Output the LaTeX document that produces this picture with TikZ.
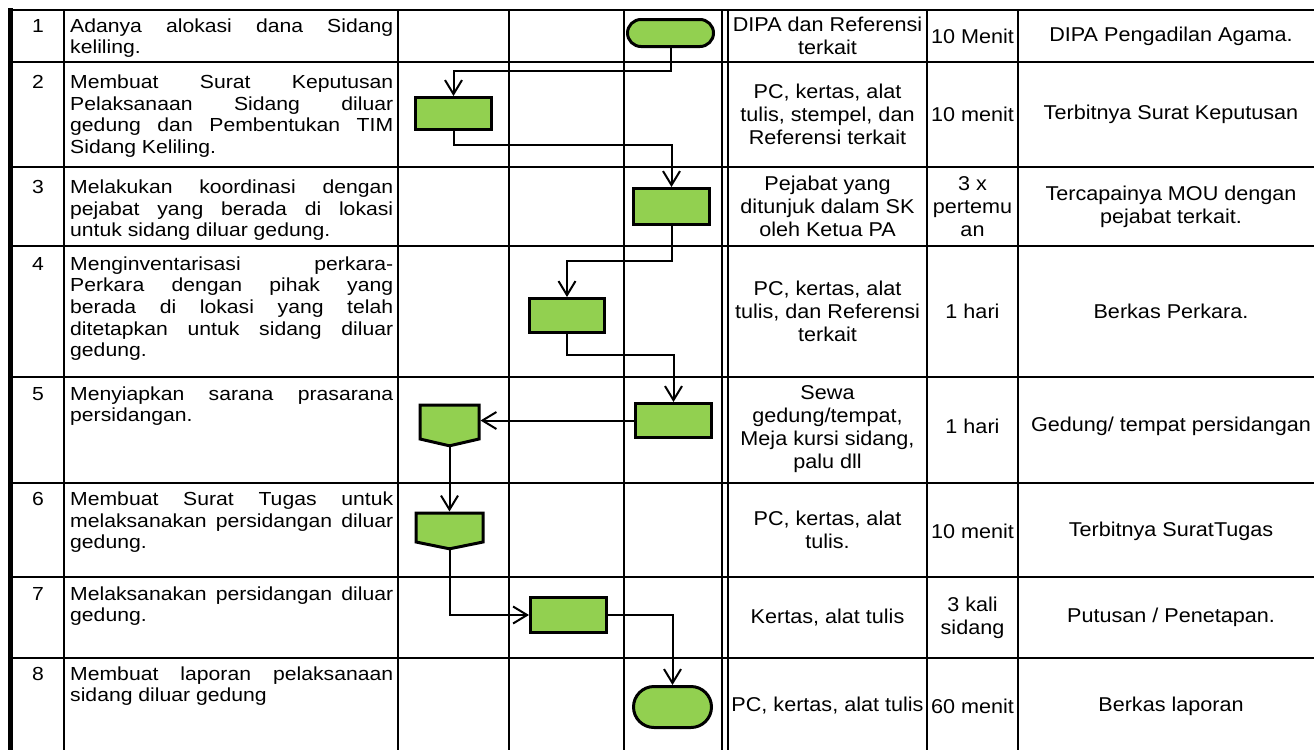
\documentclass[tikz,border=0pt]{standalone}
\usepackage{fontspec}
\newfontfamily\tabfont{Liberation Sans}[FakeStretch=1.12]
\newfontfamily\cellfont{Liberation Sans}[FakeStretch=1.08]
\usetikzlibrary{arrows.meta,shapes.misc,shapes.symbols}
\definecolor{sopgreen}{HTML}{92D050}
\tikzset{
  base/.style={font=\tabfont\fontsize{18.9}{21.7}\selectfont,inner sep=0pt},
  num/.style={base,anchor=base},
  desc/.style={base,anchor=base west,text width=323pt,align=justify,
    execute at begin node={\tolerance=9999\hyphenpenalty=10000\hbadness=10000}},
  cell/.style={font=\cellfont\fontsize{20}{23.2}\selectfont,inner sep=0pt,align=center},
  proc/.style={draw=black,line width=3pt,fill=sopgreen,inner sep=0pt},
  term/.style={proc,rounded rectangle},
  offpage/.style={proc,signal,signal to=south,anchor=north},
  grid/.style={line width=2pt},
  flow/.style={-{Straight Barb[length=14pt,width=17pt]},line width=2pt}
}
\begin{document}
\begin{tikzpicture}[x=1pt,y=-1pt]
\useasboundingbox (0,0) rectangle (1314,750);

% table grid
\draw[line width=5pt] (10.5,8) -- (10.5,750);
\draw[grid] (8,10) -- (1314,10);
\draw[grid] (8,62) -- (1314,62);
\draw[grid] (8,167) -- (1314,167);
\draw[grid] (8,246) -- (1314,246);
\draw[grid] (8,377) -- (1314,377);
\draw[grid] (8,483) -- (1314,483);
\draw[grid] (8,577) -- (1314,577);
\draw[grid] (8,658) -- (1314,658);
\draw[grid] (64,10) -- (64,750);
\draw[grid] (398,10) -- (398,750);
\draw[grid] (509,10) -- (509,750);
\draw[grid] (624,10) -- (624,750);
\draw[grid] (722,10) -- (722,750);
\draw[grid] (728,10) -- (728,750);
\draw[grid] (927,10) -- (927,750);
\draw[grid] (1018,10) -- (1018,750);

% nomor dan kegiatan
\node[num] (n1) at (38,32) {1};
\node[desc] (d1) at (70,32) {Adanya alokasi dana Sidang\linebreak keliling.};
\node[num] (n2) at (38,88.5) {2};
\node[desc] (d2) at (70,88.5) {Membuat Surat Keputusan\linebreak Pelaksanaan Sidang diluar\linebreak gedung dan Pembentukan TIM\linebreak Sidang Keliling.};
\node[num] (n3) at (38,193.5) {3};
\node[desc] (d3) at (70,193.5) {Melakukan koordinasi dengan\linebreak pejabat yang berada di lokasi\linebreak untuk sidang diluar gedung.};
\node[num] (n4) at (38,270) {4};
\node[desc] (d4) at (70,270) {Menginventarisasi perkara-\linebreak Perkara dengan pihak yang\linebreak berada di lokasi yang telah\linebreak ditetapkan untuk sidang diluar\linebreak gedung.};
\node[num] (n5) at (38,400) {5};
\node[desc] (d5) at (70,400) {Menyiapkan sarana prasarana\linebreak persidangan.};
\node[num] (n6) at (38,505.5) {6};
\node[desc] (d6) at (70,505.5) {Membuat Surat Tugas untuk\linebreak melaksanakan persidangan diluar\linebreak gedung.};
\node[num] (n7) at (38,600) {7};
\node[desc] (d7) at (70,600) {Melaksanakan persidangan diluar\linebreak gedung.};
\node[num] (n8) at (38,680) {8};
\node[desc] (d8) at (70,680) {Membuat laporan pelaksanaan\linebreak sidang diluar gedung};

% kelengkapan, waktu, output
\node[cell] (res1) at (827.5,36) {DIPA dan Referensi\\terkait};
\node[cell] (t1) at (972.5,36) {10 Menit};
\node[cell] (out1) at (1171,36) {DIPA Pengadilan Agama.};
\node[cell] (res2) at (827.5,114.5) {PC, kertas, alat\\tulis, stempel, dan\\Referensi terkait};
\node[cell] (t2) at (972.5,114.5) {10 menit};
\node[cell] (out2) at (1171,114.5) {Terbitnya Surat Keputusan};
\node[cell] (res3) at (827.5,206.5) {Pejabat yang\\ditunjuk dalam SK\\oleh Ketua PA};
\node[cell] (t3) at (972.5,206.5) {3 x\\pertemu\\an};
\node[cell] (out3) at (1171,206.5) {Tercapainya MOU dengan\\pejabat terkait.};
\node[cell] (res4) at (827.5,311.5) {PC, kertas, alat\\tulis, dan Referensi\\terkait};
\node[cell] (t4) at (972.5,311.5) {1 hari};
\node[cell] (out4) at (1171,311.5) {Berkas Perkara.};
\node[cell] (res5) at (827.5,429) {Sewa\\gedung/tempat,\\Meja kursi sidang,\\palu dll};
\node[cell] (t5) at (972.5,426) {1 hari};
\node[cell] (out5) at (1171,426) {Gedung/ tempat persidangan};
\node[cell] (res6) at (827.5,530) {PC, kertas, alat\\tulis.};
\node[cell] (t6) at (972.5,531) {10 menit};
\node[cell] (out6) at (1171,531) {Terbitnya SuratTugas};
\node[cell] (res7) at (827.5,617.5) {Kertas, alat tulis};
\node[cell] (t7) at (972.5,617.5) {3 kali\\sidang};
\node[cell] (out7) at (1171,617.5) {Putusan / Penetapan.};
\node[cell] (res8) at (827.5,706) {PC, kertas, alat tulis};
\node[cell] (t8) at (972.5,706) {60 menit};
\node[cell] (out8) at (1171,706) {Berkas laporan};

% bagan alir
\node[term,minimum width=86pt,minimum height=27pt] (start) at (670.5,33) {};
\node[proc,minimum width=76pt,minimum height=32pt] (p2) at (453.5,113.5) {};
\node[proc,minimum width=76pt,minimum height=36pt] (p3) at (671.5,206.5) {};
\node[proc,minimum width=75pt,minimum height=34pt] (p4) at (567,315.5) {};
\node[proc,minimum width=76pt,minimum height=34pt] (p5) at (673.5,420.5) {};
\node[offpage,minimum width=59pt,minimum height=34pt,signal pointer angle=154] (op5) at (449.5,403.5) {};
\node[offpage,minimum width=67pt,minimum height=29pt,signal pointer angle=157] (op6) at (449.5,511.5) {};
\node[proc,minimum width=76pt,minimum height=35pt] (p7) at (568.5,615) {};
\node[term,minimum width=78pt,minimum height=41pt] (finish) at (672.5,707) {};

\draw[flow] (start.south) -- ++(0,23) -| (p2.north);
\draw[flow] (p2.south) -- ++(0,14) -| (p3.north);
\draw[flow] (p3.south) -- ++(0,35) -| (p4.north);
\draw[flow] (p4.south) -- ++(0,21) -| (p5.north);
\draw[flow] (p5.west) -- (p5.west -| op5.east);
\draw[flow] (op5.south) -- (op6.north);
\draw[flow] (op6.south) |- (p7.west);
\draw[flow] (p7.east) -| (finish.north);
\end{tikzpicture}
\end{document}
